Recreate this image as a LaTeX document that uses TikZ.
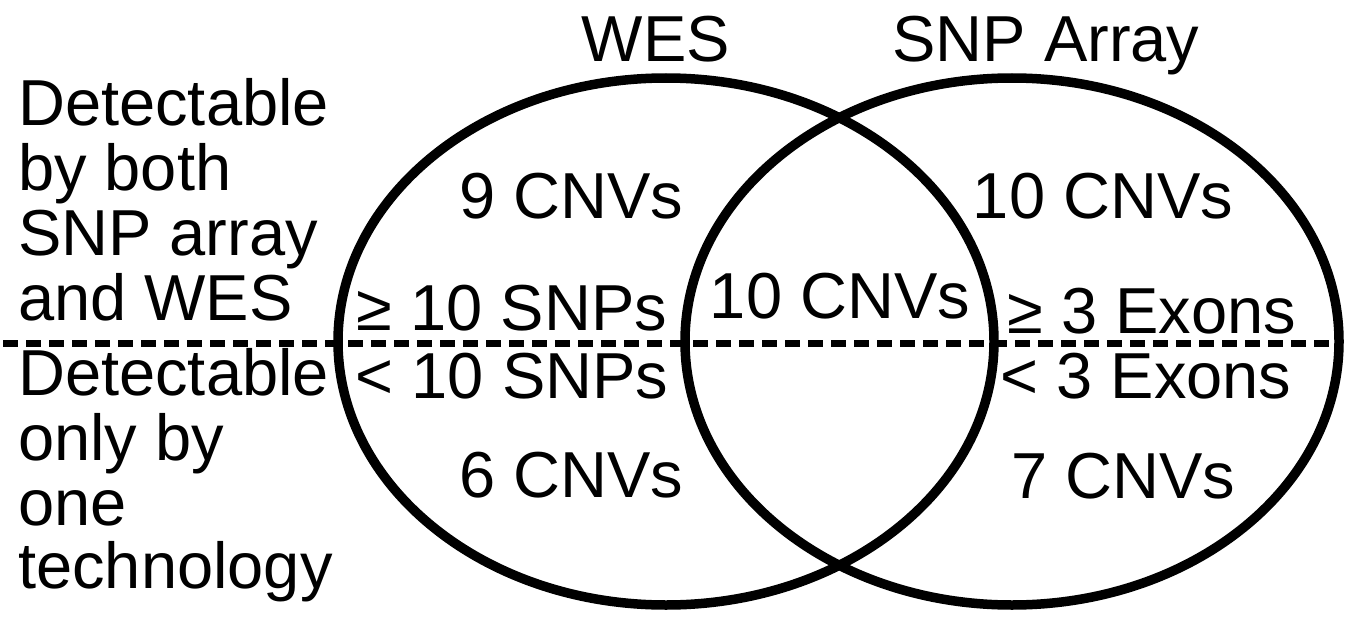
\documentclass[tikz,border=0pt]{standalone}
\usepackage{fontspec}
\setmainfont{Liberation Sans}
\begin{document}
\begin{tikzpicture}[x=1pt,y=-1pt,
  lbl/.style={inner sep=0pt, anchor=base, font=\fontsize{65}{65}\selectfont},
  side/.style={lbl, anchor=base west},
  setline/.style={line width=9.5pt, black},
  divider/.style={line width=7pt, dash pattern=on 15pt off 8pt}]
  % canvas
  \useasboundingbox (0,0) rectangle (1355,618);

  % centres of the two sets
  \coordinate (cw) at (666,341.5);
  \coordinate (cs) at (1012,341.5);

  % dashed divider
  \coordinate (dl) at (3,343);
  \coordinate (dr) at (1340,343);
  \draw[divider] (dl) -- (dr);

  % the two sets
  \draw[setline] (cw) ellipse [x radius=328pt, y radius=263.5pt];
  \draw[setline] (cs) ellipse [x radius=327pt, y radius=263.5pt];

  % set titles
  \node[lbl] (twes) at (656,62) {WES};
  \node[lbl] (tsnp) at (1046,62) {SNP Array};

  % region counts
  \node[lbl] (wtop) at (571,218) {9 CNVs};
  \node[lbl] (wge)  at (512,330) {≥ 10 SNPs};
  \node[lbl] (both) at (840,318) {10 CNVs};
  \node[lbl] (stop) at (1103,218) {10 CNVs};
  \node[lbl] (sge)  at (1152,333) {≥ 3 Exons};
  \node[lbl] (wlt)  at (512,398) {< 10 SNPs};
  \node[lbl] (slt)  at (1146,398) {< 3 Exons};
  \node[lbl] (wbot) at (571,497) {6 CNVs};
  \node[lbl] (sbot) at (1123,498) {7 CNVs};

  % row captions
  \node[side] (u1) at (18,125) {Detectable};
  \node[side] (u2) at (18,190) {by both};
  \node[side] (u3) at (18,255) {SNP array};
  \node[side] (u4) at (18,320) {and WES};
  \node[side] (d1) at (18,395) {Detectable};
  \node[side] (d2) at (18,460) {only by};
  \node[side] (d3) at (18,525) {one};
  \node[side] (d4) at (18,588) {technology};
\end{tikzpicture}
\end{document}
